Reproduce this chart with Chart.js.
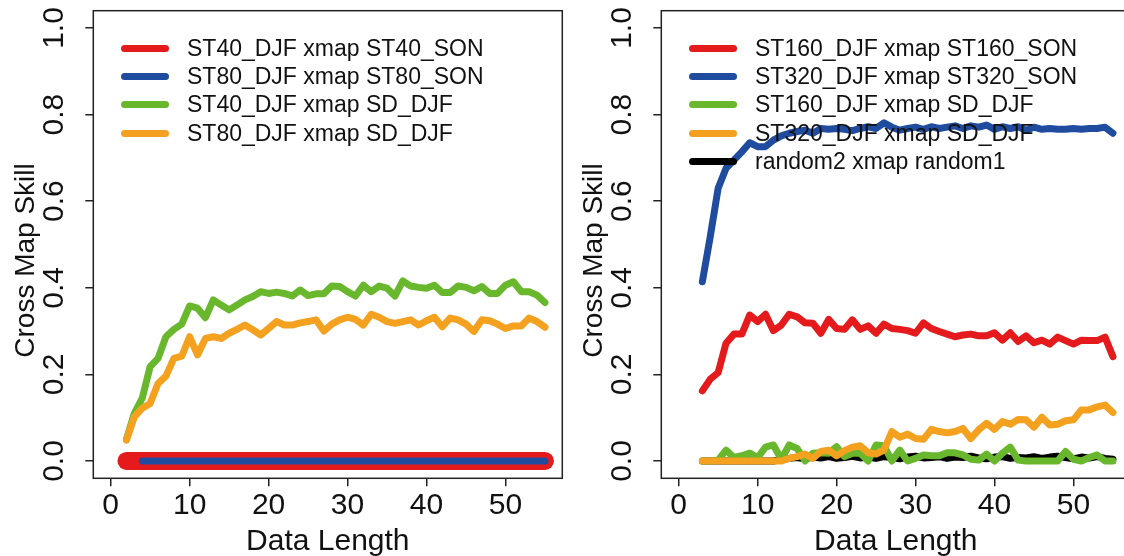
<!DOCTYPE html>
<html>
<head>
<meta charset="utf-8">
<script src="https://cdn.jsdelivr.net/npm/chart.js@4/dist/chart.umd.min.js"></script>
<style>
  body { margin:0; width:1124px; height:556px; overflow:hidden; position:relative; background:#fff;
         font-family:"Liberation Sans", Arial, sans-serif; }
  .panel { position:absolute; top:0; width:600px; height:556px; }
  .legend { position:absolute; left:121px; top:34px; font-size:23px; color:#111; }
  .legend .row { display:flex; align-items:center; height:28.3px; white-space:nowrap; }
  .legend .swatch { width:48px; height:7px; border-radius:3.5px; margin-right:18px; }
</style>
</head>
<body>
<div class="panel" style="left:0"><canvas id="cLeft" width="600" height="556"></canvas><div class="legend" id="legLeft"></div></div>
<div class="panel" style="left:568px"><canvas id="cRight" width="600" height="556"></canvas><div class="legend" id="legRight"></div></div>
<script>
// ---- data ----
var lenLeft = [2,3,4,5,6,7,8,9,10,11,12,13,14,15,16,17,18,19,20,21,22,23,24,25,26,27,28,29,30,31,32,33,34,35,36,37,38,39,40,41,42,43,44,45,46,47,48,49,50,51,52,53,54,55];
var st40Son = [0,0,0,0,0,0,0,0,0,0,0,0,0,0,0,0,0,0,0,0,0,0,0,0,0,0,0,0,0,0,0,0,0,0,0,0,0,0,0,0,0,0,0,0,0,0,0,0,0,0,0,0,0,0];
var st80Son = [null,null,0,0,0,0,0,0,0,0,0,0,0,0,0,0,0,0,0,0,0,0,0,0,0,0,0,0,0,0,0,0,0,0,0,0,0,0,0,0,0,0,0,0,0,0,0,0,0,0,0,0,0,0];
var st40Sd = [0.05,0.110,0.145,0.218,0.237,0.287,0.304,0.316,0.358,0.353,0.331,0.372,0.360,0.349,0.360,0.372,0.380,0.391,0.387,0.390,0.387,0.381,0.395,0.382,0.386,0.386,0.404,0.403,0.391,0.381,0.406,0.391,0.404,0.399,0.381,0.416,0.404,0.401,0.399,0.406,0.389,0.389,0.404,0.401,0.393,0.403,0.387,0.387,0.406,0.414,0.391,0.391,0.383,0.366];
var st80Sd = [0.048,0.102,0.122,0.133,0.179,0.196,0.237,0.242,0.287,0.245,0.283,0.287,0.283,0.295,0.304,0.314,0.303,0.291,0.306,0.322,0.314,0.314,0.319,0.322,0.326,0.300,0.316,0.326,0.332,0.327,0.314,0.339,0.332,0.322,0.318,0.322,0.326,0.314,0.324,0.332,0.310,0.330,0.326,0.316,0.299,0.326,0.324,0.316,0.306,0.312,0.312,0.330,0.322,0.309];

var lenRight = [3,4,5,6,7,8,9,10,11,12,13,14,15,16,17,18,19,20,21,22,23,24,25,26,27,28,29,30,31,32,33,34,35,36,37,38,39,40,41,42,43,44,45,46,47,48,49,50,51,52,53,54,55];
var st160Son = [0.162,0.189,0.204,0.272,0.293,0.293,0.337,0.322,0.339,0.301, 0.314,0.339,0.333,0.319,0.318,0.295,0.327,0.306,0.304,0.326, 0.304,0.312,0.295,0.316,0.306,0.304,0.301,0.295,0.319,0.306, 0.299,0.293,0.287,0.291,0.293,0.289,0.289,0.296,0.279,0.296, 0.276,0.289,0.273,0.279,0.270,0.286,0.278,0.270,0.279,0.278, 0.278,0.286,0.241];
var st320Son = [0.414,0.518,0.630,0.676,0.695,0.714,0.735,0.726,0.726,0.741, 0.751,0.757,0.761,0.764,0.757,0.768,0.766,0.768,0.766,0.763, 0.768,0.772,0.768,0.781,0.771,0.764,0.768,0.771,0.766,0.772, 0.768,0.771,0.774,0.768,0.774,0.771,0.776,0.766,0.772,0.768, 0.772,0.764,0.771,0.766,0.768,0.766,0.766,0.768,0.766,0.768, 0.768,0.771,0.757];
var st160Sd = [0,0,0.002,0.025,0.008,0.012,0.018,0.008,0.032,0.037, 0.004,0.037,0.029,0,0.018,0.019,0.018,0.033,0.010,0.018, 0.018,0,0.037,0.035,0,0.025,0,0.006,0.014,0.012, 0.012,0.019,0.019,0.014,0.004,0.002,0.016,0,0.018,0.032, 0.002,0,0,0,0,0,0.022,0.004,0,0.008, 0.014,0,0];
var st320Sd = [0,0,0,0,0,0,0,0,0,0, 0,0.006,0.010,0.016,0.006,0.022,0.025,0.012,0.024,0.032, 0.035,0.019,0.016,0.025,0.068,0.055,0.062,0.052,0.050,0.073, 0.068,0.065,0.068,0.075,0.052,0.072,0.087,0.073,0.091,0.085, 0.096,0.095,0.078,0.101,0.083,0.085,0.093,0.095,0.118,0.118, 0.125,0.129,0.112];
var randomXmap = [0,0,0,0,0,0,0,0,0,0, 0.003,0.006,0.008,0.005,0.009,0.007,0.010,0.006,0.008,0.011, 0.007,0.009,0.006,0.010,0.008,0.005,0.009,0.011,0.007,0.008, 0.010,0.006,0.009,0.008,0.011,0.007,0.005,0.009,0.010,0.006, 0.008,0.007,0.010,0.006,0.009,0.011,0.008,0.005,0.009,0.007, 0.010,0.006,0.004];

var xTicks = [0,10,20,30,40,50];
var yTicks = [0,0.2,0.4,0.6,0.8,1.0];

var RED = '#e41a1c', BLUE = '#1f4c9f', GREEN = '#69b72d', ORANGE = '#f4a11f', BLACK = '#000000';
var FONT = '"Liberation Sans", Arial, sans-serif';
var INK = '#111';

function pts(xs, ys) {
    var out = [];
    for (let i in xs) out.push({x: xs[i], y: ys[i]});
    return out;
}

function line(label, xs, ys, color, width, order) {
    return {
        label: label,
        data: pts(xs, ys),
        borderColor: color,
        backgroundColor: color,
        borderWidth: width,
        borderCapStyle: 'round',
        borderJoinStyle: 'round',
        pointRadius: 0,
        tension: 0,
        fill: false,
        order: order
    };
}

// frame around the plot region (R box())
var frame = {
    id: 'frame',
    beforeDatasetsDraw: function(chart) {
        var a = chart.chartArea, ctx = chart.ctx;
        ctx.save();
        ctx.strokeStyle = '#222';
        ctx.lineWidth = 1.5;
        ctx.strokeRect(a.left, a.top, a.right - a.left, a.bottom - a.top);
        ctx.restore();
    }
};

// y tick labels and y title written parallel to the axis
var yLabels = {
    id: 'yLabels',
    afterDraw: function(chart) {
        var ctx = chart.ctx, sc = chart.scales.y, a = chart.chartArea;
        ctx.save();
        ctx.font = '30px ' + FONT;
        ctx.fillStyle = INK;
        ctx.textAlign = 'center';
        ctx.textBaseline = 'alphabetic';
        sc.ticks.forEach(function(t) {
            ctx.save();
            ctx.translate(a.left - 30, sc.getPixelForValue(t.value));
            ctx.rotate(-Math.PI / 2);
            ctx.fillText(t.value.toFixed(1), 0, 0);
            ctx.restore();
        });
        // axis title, centred a little below the middle of the frame as in the original
        ctx.font = '28px ' + FONT;
        ctx.translate(a.left - 59.5, (a.top + a.bottom) / 2 + 16);
        ctx.rotate(-Math.PI / 2);
        ctx.fillText(sc.options.title.text, 0, 0);
        ctx.restore();
    }
};

function makeOptions() {
    return {
        responsive: false,
        animation: false,
        layout: { padding: { left: 0, top: 10.7, right: 37.7, bottom: 0 } },
        plugins: { legend: { display: false }, tooltip: { enabled: false } },
        scales: {
            x: {
                type: 'linear', min: -2.2, max: 57.2,
                afterBuildTicks: function(s) { s.ticks = xTicks.map(function(v) { return {value: v}; }); },
                afterFit: function(s) { s.height = 77.7; },
                grid: { drawOnChartArea: false, tickLength: 8, color: '#222', lineWidth: 1.5 },
                border: { display: false },
                ticks: { color: INK, font: { family: FONT, size: 30 }, padding: 1, maxRotation: 0 },
                title: { display: true, text: 'Data Length', color: INK, font: { family: FONT, size: 30 }, padding: { top: 0, bottom: -4 } }
            },
            y: {
                type: 'linear', min: -0.04, max: 1.04,
                afterBuildTicks: function(s) { s.ticks = yTicks.map(function(v) { return {value: v}; }); },
                afterFit: function(s) { s.width = 93.3; },
                grid: { drawOnChartArea: false, tickLength: 8, color: '#222', lineWidth: 1.5 },
                border: { display: false },
                ticks: { display: false },
                // text kept here, drawn by the yLabels plugin
                title: { display: false, text: 'Cross Map Skill' }
            }
        }
    };
}

function buildLegend(chart, id) {
    var box = document.getElementById(id);
    chart.data.datasets.forEach(function(ds) {
        var row = document.createElement('div');
        row.className = 'row';
        var sw = document.createElement('span');
        sw.className = 'swatch';
        sw.style.background = ds.borderColor;
        var tx = document.createElement('span');
        tx.textContent = ds.label;
        row.appendChild(sw);
        row.appendChild(tx);
        box.appendChild(row);
    });
}

window.onload = function() {
    var left = new Chart(document.getElementById('cLeft').getContext('2d'), {
        type: 'line',
        data: {
            datasets: [
                line('ST40_DJF xmap ST40_SON', lenLeft, st40Son, RED, 18, 4),
                line('ST80_DJF xmap ST80_SON', lenLeft, st80Son, BLUE, 7, 3),
                line('ST40_DJF xmap SD_DJF', lenLeft, st40Sd, GREEN, 7, 2),
                line('ST80_DJF xmap SD_DJF', lenLeft, st80Sd, ORANGE, 7, 1)
            ]
        },
        options: makeOptions(),
        plugins: [frame, yLabels]
    });
    buildLegend(left, 'legLeft');

    var right = new Chart(document.getElementById('cRight').getContext('2d'), {
        type: 'line',
        data: {
            datasets: [
                line('ST160_DJF xmap ST160_SON', lenRight, st160Son, RED, 7, 4),
                line('ST320_DJF xmap ST320_SON', lenRight, st320Son, BLUE, 7, 3),
                line('ST160_DJF xmap SD_DJF', lenRight, st160Sd, GREEN, 7, 2),
                line('ST320_DJF xmap SD_DJF', lenRight, st320Sd, ORANGE, 7, 1),
                line('random2 xmap random1', lenRight, randomXmap, BLACK, 7, 5)
            ]
        },
        options: makeOptions(),
        plugins: [frame, yLabels]
    });
    buildLegend(right, 'legRight');
};
</script>
</body>
</html>
